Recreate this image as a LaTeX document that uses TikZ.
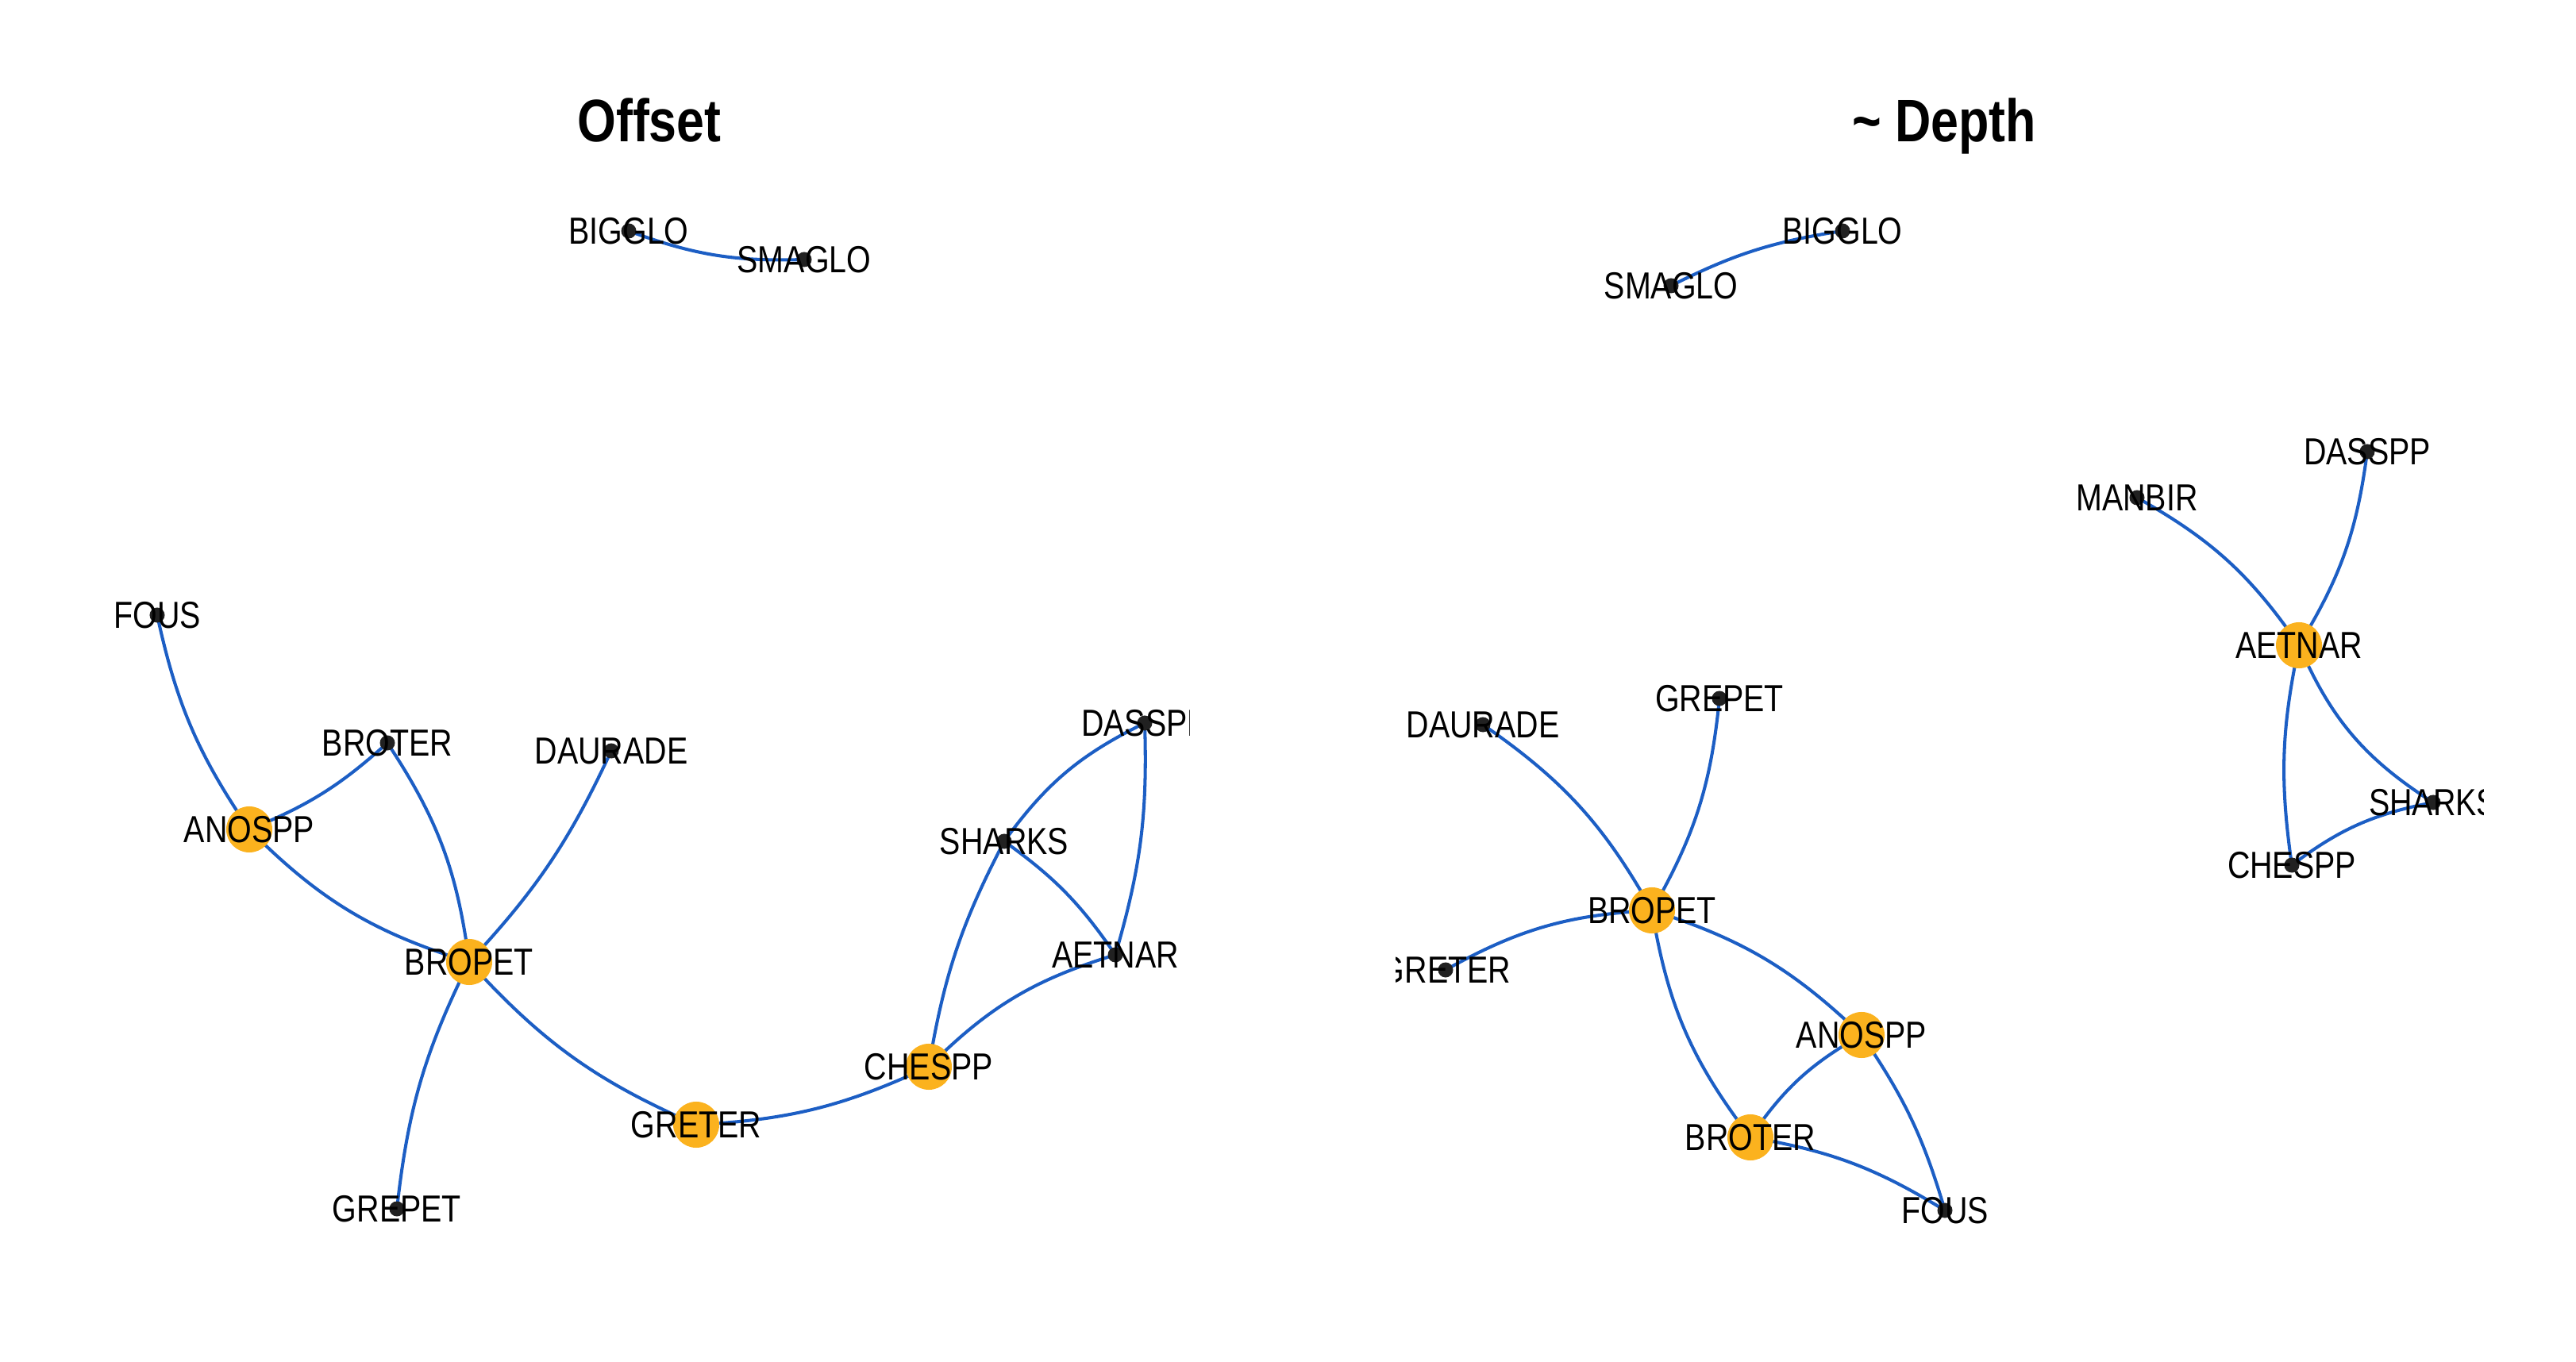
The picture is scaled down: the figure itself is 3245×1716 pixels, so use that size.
\documentclass[tikz,border=0pt]{standalone}
\usepackage{fontspec}
\setmainfont{Liberation Sans}[FakeStretch=0.83]
\usetikzlibrary{backgrounds}
\definecolor{edgeblue}{RGB}{28,94,196}
\definecolor{hubgold}{RGB}{251,178,30}
\definecolor{dotgray}{RGB}{33,33,33}

\begin{document}
\begin{tikzpicture}[line cap=round,line join=round,x=0.01cm,y=-0.01cm,
hub/.style={circle,fill=hubgold,minimum size=0.58cm,inner sep=0pt},
leaf/.style={circle,fill=dotgray,minimum size=0.19cm,inner sep=0pt},
lbl/.style={inner sep=0pt,font=\fontsize{13.5}{16}\selectfont},
ttl/.style={inner sep=0pt,anchor=base,font=\fontsize{21.5}{26}\selectfont\bfseries},
edge/.style={draw=edgeblue,line width=1.15pt}]
\useasboundingbox (0,0) rectangle (3245,1716);
\node[ttl] (ttlOffset) at (818,179) {Offset};
\node[ttl] (ttlDepth) at (2449,179) {\textasciitilde{} Depth};
\begin{scope}
\clip (0,0) rectangle (1498,1716);
\node[leaf] (aBIGGLO) at (792,291) {};
\node[leaf] (aSMAGLO) at (1013,327) {};
\node[leaf] (aFOUS) at (198,775) {};
\node[leaf] (aBROTER) at (488,936) {};
\node[leaf] (aDAURADE) at (770,946) {};
\node[hub] (aANOSPP) at (314,1045) {};
\node[leaf] (aSHARKS) at (1265,1060) {};
\node[leaf] (aDASSPP) at (1442,911) {};
\node[leaf] (aAETNAR) at (1405,1203) {};
\node[hub] (aBROPET) at (591,1212) {};
\node[hub] (aCHESPP) at (1170,1344) {};
\node[hub] (aGRETER) at (877,1417) {};
\node[leaf] (aGREPET) at (500,1523) {};
\begin{scope}[on background layer]
\draw[edge] (aBIGGLO.center) to[bend right=11] (aSMAGLO.center);
\draw[edge] (aFOUS.center) to[bend right=11] (aANOSPP.center);
\draw[edge] (aANOSPP.center) to[bend right=10] (aBROTER.center);
\draw[edge] (aANOSPP.center) to[bend right=14] (aBROPET.center);
\draw[edge] (aBROTER.center) to[bend left=13] (aBROPET.center);
\draw[edge] (aBROPET.center) to[bend right=9] (aDAURADE.center);
\draw[edge] (aBROPET.center) to[bend right=10] (aGREPET.center);
\draw[edge] (aBROPET.center) to[bend right=12] (aGRETER.center);
\draw[edge] (aGRETER.center) to[bend right=11] (aCHESPP.center);
\draw[edge] (aCHESPP.center) to[bend left=9] (aSHARKS.center);
\draw[edge] (aCHESPP.center) to[bend left=14] (aAETNAR.center);
\draw[edge] (aSHARKS.center) to[bend left=10] (aAETNAR.center);
\draw[edge] (aSHARKS.center) to[bend left=14] (aDASSPP.center);
\draw[edge] (aDASSPP.center) to[bend left=9] (aAETNAR.center);
\end{scope}
\node[lbl] (aBIGGLOt) at (aBIGGLO) {BIGGLO};
\node[lbl] (aSMAGLOt) at (aSMAGLO) {SMAGLO};
\node[lbl] (aFOUSt) at (aFOUS) {FOUS};
\node[lbl] (aBROTERt) at (aBROTER) {BROTER};
\node[lbl] (aDAURADEt) at (aDAURADE) {DAURADE};
\node[lbl] (aANOSPPt) at (aANOSPP) {ANOSPP};
\node[lbl] (aSHARKSt) at (aSHARKS) {SHARKS};
\node[lbl] (aDASSPPt) at (aDASSPP) {DASSPP};
\node[lbl] (aAETNARt) at (aAETNAR) {AETNAR};
\node[lbl] (aBROPETt) at (aBROPET) {BROPET};
\node[lbl] (aCHESPPt) at (aCHESPP) {CHESPP};
\node[lbl] (aGRETERt) at (aGRETER) {GRETER};
\node[lbl] (aGREPETt) at (aGREPET) {GREPET};
\end{scope}
\begin{scope}
\clip (1758,0) rectangle (3128,1716);
\node[leaf] (bBIGGLO) at (2321,291) {};
\node[leaf] (bSMAGLO) at (2105,360) {};
\node[leaf] (bDASSPP) at (2982,569) {};
\node[leaf] (bMANBIR) at (2692,627) {};
\node[hub] (bAETNAR) at (2896,813) {};
\node[leaf] (bGREPET) at (2166,880) {};
\node[leaf] (bDAURADE) at (1868,913) {};
\node[leaf] (bSHARKS) at (3065,1011) {};
\node[leaf] (bCHESPP) at (2887,1090) {};
\node[hub] (bBROPET) at (2081,1147) {};
\node[leaf] (bGRETER) at (1821,1222) {};
\node[hub] (bANOSPP) at (2345,1304) {};
\node[hub] (bBROTER) at (2205,1433) {};
\node[leaf] (bFOUS) at (2450,1525) {};
\begin{scope}[on background layer]
\draw[edge] (bSMAGLO.center) to[bend left=9] (bBIGGLO.center);
\draw[edge] (bMANBIR.center) to[bend left=13] (bAETNAR.center);
\draw[edge] (bDASSPP.center) to[bend left=12] (bAETNAR.center);
\draw[edge] (bAETNAR.center) to[bend right=10] (bCHESPP.center);
\draw[edge] (bAETNAR.center) to[bend right=17] (bSHARKS.center);
\draw[edge] (bCHESPP.center) to[bend left=13] (bSHARKS.center);
\draw[edge] (bDAURADE.center) to[bend left=13] (bBROPET.center);
\draw[edge] (bGREPET.center) to[bend left=12] (bBROPET.center);
\draw[edge] (bGRETER.center) to[bend left=13] (bBROPET.center);
\draw[edge] (bBROPET.center) to[bend left=13] (bANOSPP.center);
\draw[edge] (bBROPET.center) to[bend right=14] (bBROTER.center);
\draw[edge] (bBROTER.center) to[bend left=13] (bANOSPP.center);
\draw[edge] (bANOSPP.center) to[bend left=9] (bFOUS.center);
\draw[edge] (bBROTER.center) to[bend left=11] (bFOUS.center);
\end{scope}
\node[lbl] (bBIGGLOt) at (bBIGGLO) {BIGGLO};
\node[lbl] (bSMAGLOt) at (bSMAGLO) {SMAGLO};
\node[lbl] (bDASSPPt) at (bDASSPP) {DASSPP};
\node[lbl] (bMANBIRt) at (bMANBIR) {MANBIR};
\node[lbl] (bAETNARt) at (bAETNAR) {AETNAR};
\node[lbl] (bGREPETt) at (bGREPET) {GREPET};
\node[lbl] (bDAURADEt) at (bDAURADE) {DAURADE};
\node[lbl] (bSHARKSt) at (bSHARKS) {SHARKS};
\node[lbl] (bCHESPPt) at (bCHESPP) {CHESPP};
\node[lbl] (bBROPETt) at (bBROPET) {BROPET};
\node[lbl] (bGRETERt) at (bGRETER) {GRETER};
\node[lbl] (bANOSPPt) at (bANOSPP) {ANOSPP};
\node[lbl] (bBROTERt) at (bBROTER) {BROTER};
\node[lbl] (bFOUSt) at (bFOUS) {FOUS};
\end{scope}
\end{tikzpicture}
\end{document}
